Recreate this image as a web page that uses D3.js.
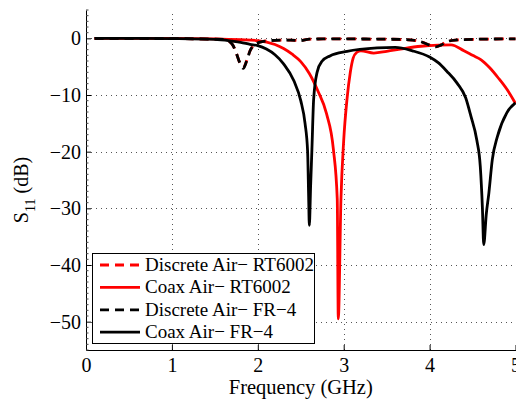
<!DOCTYPE html>
<html>
<head>
<meta charset="utf-8">
<title></title>
<script src="https://cdn.jsdelivr.net/npm/d3@7"></script>
<style>
  body{margin:0;background:#fff;}
  text{font-family:"Liberation Serif","Times New Roman",serif;}
</style>
</head>
<body>
<script>
// x ticks, y ticks
let xTicks=[0,1,2,3,4,5];
let yTicks=[0,-10,-20,-30,-40,-50];

// Discrete Air- RT6002 (red dashed)
let fDiscRT=[0.1,1.0,1.6,1.7,1.74,1.79,1.83,1.87,1.91,1.95,2.05,2.2,2.38,2.49,2.6,2.8,3.5,3.8,3.9,4.0,4.07,4.13,4.2,4.3,4.6,5.0];
let sDiscRT=[0,-0.05,-0.2,-1.0,-2.2,-4.3,-5.2,-4.0,-2.2,-1.3,-0.6,-0.35,-0.3,-0.4,-0.15,-0.1,-0.15,-0.3,-0.6,-1.2,-1.5,-1.2,-0.6,-0.3,-0.15,-0.1];

// Coax Air- RT6002 (red solid)
let fCoaxRT=[0.1,0.5,1.0,1.5,1.8,2.0,2.2,2.3,2.4,2.5,2.6,2.7,2.8,2.88,2.925,2.937,2.968,3.0,3.038,3.077,3.11,3.15,3.2,3.35,3.5,3.7,3.9,4.1,4.25,4.4,4.5,4.6,4.7,4.8,4.9,5.0];
let sCoaxRT=[0,0,0,-0.1,-0.25,-0.4,-1.1,-1.8,-2.8,-4.1,-6.2,-9.3,-13.3,-19.6,-28.4,-49.5,-28.4,-18,-10.8,-6,-3.5,-2.5,-2.2,-2.6,-2.3,-1.8,-1.4,-1.2,-1.15,-2.2,-3.0,-3.8,-5.2,-7.0,-9.0,-11.5];

// Discrete Air- FR-4 (black dashed)
let fDiscFR=[0.1,1.0,1.6,1.7,1.74,1.79,1.83,1.87,1.91,1.95,2.05,2.2,2.38,2.49,2.6,2.8,3.5,3.8,3.9,4.0,4.07,4.13,4.2,4.3,4.6,5.0];
let sDiscFR=[0,-0.05,-0.2,-1.0,-2.2,-4.3,-5.3,-4.0,-2.2,-1.3,-0.6,-0.35,-0.3,-0.4,-0.15,-0.1,-0.15,-0.3,-0.6,-1.2,-1.5,-1.2,-0.6,-0.3,-0.15,-0.1];

// Coax Air- FR-4 (black solid)
let fCoaxFR=[0.1,0.5,1.0,1.5,1.7,1.8,1.91,2.0,2.1,2.2,2.3,2.42,2.5,2.55,2.58,2.592,2.6,2.615,2.63,2.65,2.69,2.75,2.84,3.04,3.39,3.6,3.8,4.0,4.1,4.2,4.32,4.42,4.48,4.55,4.59,4.615,4.63,4.66,4.69,4.73,4.79,4.9,5.0];
let sCoaxFR=[0,0,-0.05,-0.2,-0.5,-0.7,-1.06,-1.3,-1.9,-2.9,-4.5,-7.5,-11,-15,-20,-28,-33,-26,-19.6,-10.8,-6,-4,-3.1,-2.3,-1.7,-1.6,-2.2,-3.3,-4.3,-5.8,-7.9,-10.5,-13.7,-18,-22.6,-30,-36.4,-31,-27.3,-21.4,-17.3,-13.1,-11.4];

let series=[
  {name:'Discrete Air\u2212 RT6002', f:fDiscRT, s:sDiscRT, color:'#ff0000', dash:'9,6'},
  {name:'Coax Air\u2212 RT6002', f:fCoaxRT, s:sCoaxRT, color:'#ff0000', dash:null},
  {name:'Discrete Air\u2212 FR\u22124', f:fDiscFR, s:sDiscFR, color:'#000000', dash:'9,6'},
  {name:'Coax Air\u2212 FR\u22124', f:fCoaxFR, s:sCoaxFR, color:'#000000', dash:null}
];

let W=516, H=399;
let svg=d3.select('body').append('svg').attr('width', W).attr('height', H);

let x=d3.scaleLinear().domain([0,5]).range([86,515.5]);
let y=d3.scaleLinear().domain([-55,5]).range([350,10]);

//网格
let grid=svg.append('g').attr('stroke', '#555').attr('stroke-width', 1).attr('stroke-dasharray', '1,4');
grid.selectAll('line.v').data(xTicks.filter(d=>d>0 && d<5)).enter().append('line')
  .attr('x1', d=>Math.round(x(d))+0.5).attr('x2', d=>Math.round(x(d))+0.5)
  .attr('y1', y(-55)).attr('y2', y(5));
grid.selectAll('line.h').data(yTicks).enter().append('line')
  .attr('y1', d=>Math.round(y(d))+0.5).attr('y2', d=>Math.round(y(d))+0.5)
  .attr('x1', x(0)).attr('x2', x(5));

//曲线
let clip=svg.append('clipPath').attr('id', 'clip').append('rect')
  .attr('x', x(0)).attr('y', y(5)).attr('width', x(5)-x(0)+1).attr('height', y(-55)-y(5));
let lines=svg.append('g').attr('clip-path', 'url(#clip)');
let line=d3.line().x(d=>x(d[0])).y(d=>y(d[1])).curve(d3.curveMonotoneX);
series.forEach(sr=>{
  let pts=sr.f.map((f,i)=>[f, sr.s[i]]);
  lines.append('path')
    .attr('d', line(pts))
    .attr('fill', 'none')
    .attr('stroke', sr.color)
    .attr('stroke-width', 2.8)
    .attr('stroke-linejoin', 'round')
    .attr('stroke-dasharray', sr.dash);
});

//坐标轴
let xAxis=d3.axisBottom(x).tickValues(xTicks).tickSizeInner(-5).tickSizeOuter(0).tickPadding(8).tickFormat(d3.format('d'));
let gx=svg.append('g').attr('transform', `translate(0, ${y(-55)})`).call(xAxis);
let yAxis=d3.axisLeft(y).tickValues(yTicks).tickSizeInner(-5).tickSizeOuter(0).tickPadding(5)
  .tickFormat(d=>d<0 ? '\u2212'+Math.abs(d) : d);
let gy=svg.append('g').attr('transform', `translate(${x(0)}, 0)`).call(yAxis);
[gx, gy].forEach(g=>{
  g.select('.domain').attr('stroke', '#000');
  g.selectAll('.tick line').attr('stroke', '#000');
  g.selectAll('.tick text').attr('fill', '#000').style('font-size', '20px').style('font-family', '"Liberation Serif",serif');
});

//副刻度
let minor=d3.range(-55, 5.01, 1).filter(d=>d%10!==0);
svg.append('g').selectAll('line').data(minor).enter().append('line')
  .attr('x1', x(0)).attr('x2', x(0)+2.5)
  .attr('y1', d=>y(d)).attr('y2', d=>y(d))
  .attr('stroke', '#444').attr('stroke-width', 1);

//标签
svg.append('text').attr('x', (x(0)+x(5))/2).attr('y', 394).attr('text-anchor', 'middle')
  .style('font-size', '20.5px').text('Frequency (GHz)');
let yl=svg.append('text').attr('transform', 'translate(28, 190) rotate(-90)').attr('text-anchor', 'middle')
  .style('font-size', '20px');
yl.append('tspan').text('S');
yl.append('tspan').attr('dy', 7).style('font-size', '14px').text('11');
yl.append('tspan').attr('dy', -7).text(' (dB)');

//图例
let lg=svg.append('g');
lg.append('rect').attr('x', 92.5).attr('y', 253.5).attr('width', 222).attr('height', 90)
  .attr('fill', '#fff').attr('stroke', '#000').attr('stroke-width', 1);
series.forEach((sr, i)=>{
  let yy=265+i*22.4;
  lg.append('line').attr('x1', 100).attr('x2', 140).attr('y1', yy).attr('y2', yy)
    .attr('stroke', sr.color).attr('stroke-width', 2.8).attr('stroke-dasharray', sr.dash);
  lg.append('text').attr('x', 145).attr('y', yy+6).style('font-size', '19px').text(sr.name);
});
</script>
</body>
</html>
